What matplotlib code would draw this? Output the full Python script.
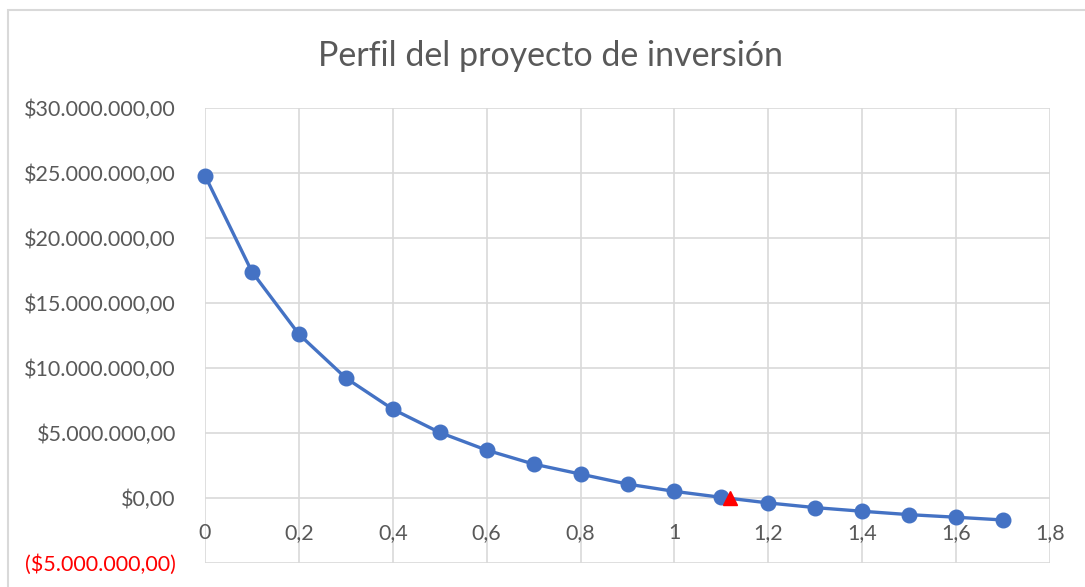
import matplotlib.pyplot as plt
from matplotlib.patches import Rectangle

# tasa de descuento vs VPN
tasas = [0.0, 0.1, 0.2, 0.3, 0.4, 0.5, 0.6, 0.7, 0.8, 0.9,
         1.0, 1.1, 1.2, 1.3, 1.4, 1.5, 1.6, 1.7]
vpn = [24.8e6, 17.4e6, 12.6e6, 9.23e6, 6.83e6, 5.04e6, 3.68e6, 2.61e6, 1.84e6, 1.07e6,
       0.51e6, 0.05e6, -0.38e6, -0.74e6, -1.02e6, -1.28e6, -1.48e6, -1.69e6]
tir_x = [1.118]
tir_y = [0.0]

y_ticks = [-5e6, 0, 5e6, 10e6, 15e6, 20e6, 25e6, 30e6]
y_labels = ['($5.000.000,00)', '$0,00', '$5.000.000,00', '$10.000.000,00',
            '$15.000.000,00', '$20.000.000,00', '$25.000.000,00', '$30.000.000,00']
x_ticks = [0, 0.2, 0.4, 0.6, 0.8, 1.0, 1.2, 1.4, 1.6, 1.8]
x_labels = ['0', '0,2', '0,4', '0,6', '0,8', '1', '1,2', '1,4', '1,6', '1,8']

plt.rcParams['font.family'] = ['Lato', 'DejaVu Sans']
text_color = '#595959'
grid_color = '#D9D9D9'

fig = plt.figure(figsize=(10.85, 5.87), dpi=100)
# chart area border (runs off the right and bottom edges)
fig.patches.append(Rectangle((8 / 1085, -0.05), 1.1, (587 - 10) / 587 + 0.05,
                             transform=fig.transFigure, fill=False,
                             edgecolor=grid_color, linewidth=1.5))

ax = fig.add_axes((205 / 1085, 24 / 587, 845 / 1085, 455 / 587))
ax.plot(tasas, vpn, color='#4472C4', linewidth=2.4, marker='o', markersize=10.5,
        zorder=3, clip_on=False)
ax.plot(tir_x, tir_y, color='red', marker='^', markersize=10, linestyle='none',
        zorder=4, clip_on=False)

ax.set_xlim(0, 1.8)
ax.set_ylim(-5e6, 30e6)
ax.set_yticks(y_ticks)
ax.set_yticklabels(y_labels)
ax.set_xticks(x_ticks)
ax.set_xticklabels(x_labels)

ax.grid(True, color=grid_color, linewidth=1.2)
ax.set_axisbelow(True)
for s in ['top', 'right', 'left']:
    ax.spines[s].set_visible(False)
ax.spines['bottom'].set_position(('data', 0))
ax.spines['bottom'].set_color('none')

ax.tick_params(axis='y', length=0, pad=21, labelsize=15.5, colors=text_color)
ax.tick_params(axis='x', length=0, pad=18, labelsize=15.5, colors=text_color)
ax.yaxis.get_ticklabels()[0].set_color('red')

fig.text(0.507, 0.904, 'Perfil del proyecto de inversión', ha='center', va='center',
         fontsize=24.5, color=text_color)

fig.savefig('out.png', dpi=100)
